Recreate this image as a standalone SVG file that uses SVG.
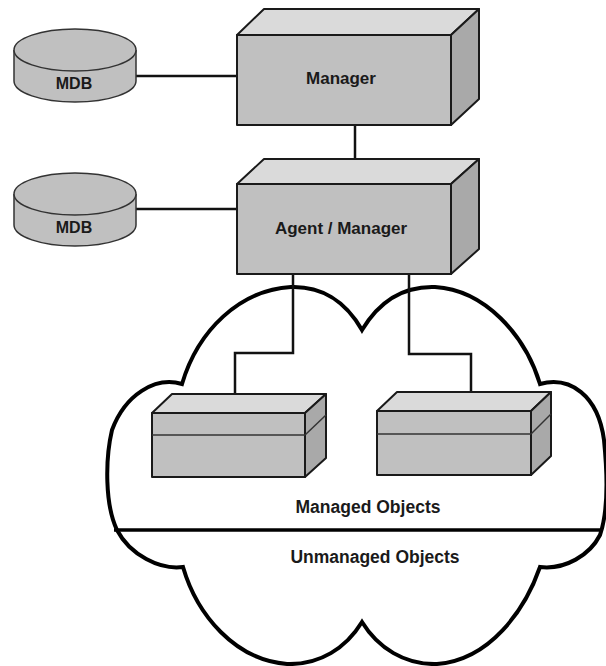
<svg xmlns="http://www.w3.org/2000/svg" width="606" height="666" viewBox="0 0 606 666">
<style>
.front{fill:#c0c0c0;stroke:#1a1a1a;stroke-width:2;stroke-linejoin:round}
.top{fill:#dadada;stroke:#1a1a1a;stroke-width:2;stroke-linejoin:round}
.side{fill:#a9a9a9;stroke:#1a1a1a;stroke-width:2;stroke-linejoin:round}
.cyl{fill:#c0c0c0;stroke:#333;stroke-width:1.5}
.conn{fill:none;stroke:#111;stroke-width:2.5}
.thin{fill:none;stroke:#333;stroke-width:1.5}
.lbl{font-family:"Liberation Sans",Arial,sans-serif;font-weight:bold;fill:#1a1a1a;text-anchor:middle}
</style>
<rect width="606" height="666" fill="#fff"/>
<g id="cloud">
<path d="M182,384 C198,330 240,290 291,287 C320,286 345,300 362,330 C380,300 405,286 435,287 C485,290 525,335 540,384 C570,376 598,395 604,440 C608,480 607,515 600,535 C590,555 565,570 540,567 C525,610 490,660 437,664 C405,665 378,648 362,622 C346,648 320,665 287,664 C235,660 197,615 183,567 C160,570 130,555 117,530 C105,505 105,460 112,430 C125,395 155,376 182,384 Z" fill="#fff" stroke="#000" stroke-width="4" stroke-linejoin="miter"/>
<line x1="114" y1="530" x2="603" y2="530" stroke="#000" stroke-width="3.5"/>
<text class="lbl" x="368" y="513" font-size="17.5">Managed Objects</text>
<text class="lbl" x="375" y="563" font-size="17.5">Unmanaged Objects</text>
</g>
<g id="connectors">
<line class="conn" x1="136" y1="76" x2="237" y2="76"/>
<line class="conn" x1="136" y1="209" x2="237" y2="209"/>
<line class="conn" x1="355" y1="125" x2="355" y2="184"/>
<polyline class="conn" points="293,274 293,353 235,353 235,394"/>
<polyline class="conn" points="409,274 409,354 471,354 471,392"/>
</g>
<g id="mdb1">
<path class="cyl" d="M14,50 L14,81 A61,21 0 0 0 136,81 L136,50"/>
<ellipse class="cyl" cx="75" cy="50" rx="61" ry="21"/>
<text class="lbl" x="74" y="89" font-size="16">MDB</text>
</g>
<g id="mdb2">
<path class="cyl" d="M14,194 L14,225 A61,21 0 0 0 136,225 L136,194"/>
<ellipse class="cyl" cx="75" cy="194" rx="61" ry="21"/>
<text class="lbl" x="74" y="233" font-size="16">MDB</text>
</g>
<g id="manager">
<polygon class="top" points="237,35 264,9 479,9 451,35"/>
<polygon class="side" points="451,35 479,9 479,99 451,125"/>
<rect class="front" x="237" y="35" width="214" height="90"/>
<text class="lbl" x="341" y="84" font-size="17">Manager</text>
</g>
<g id="agent-manager">
<polygon class="top" points="237,184 264,159 479,159 451,184"/>
<polygon class="side" points="451,184 479,159 479,249 451,274"/>
<rect class="front" x="237" y="184" width="214" height="90"/>
<text class="lbl" x="341" y="234" font-size="17">Agent / Manager</text>
</g>
<g id="object1">
<polygon class="top" points="152,413 172,394 326,394 305,413"/>
<polygon class="side" points="305,413 326,394 326,458 305,477"/>
<rect class="front" x="152" y="413" width="153" height="64"/>
<line class="thin" x1="152" y1="435" x2="305" y2="435"/>
<line class="thin" x1="305" y1="435" x2="326" y2="415"/>
</g>
<g id="object2">
<polygon class="top" points="377,411 397,392 551,392 531,411"/>
<polygon class="side" points="531,411 551,392 551,456 531,475"/>
<rect class="front" x="377" y="411" width="154" height="64"/>
<line class="thin" x1="377" y1="434" x2="531" y2="434"/>
<line class="thin" x1="531" y1="434" x2="551" y2="414"/>
</g>
</svg>
